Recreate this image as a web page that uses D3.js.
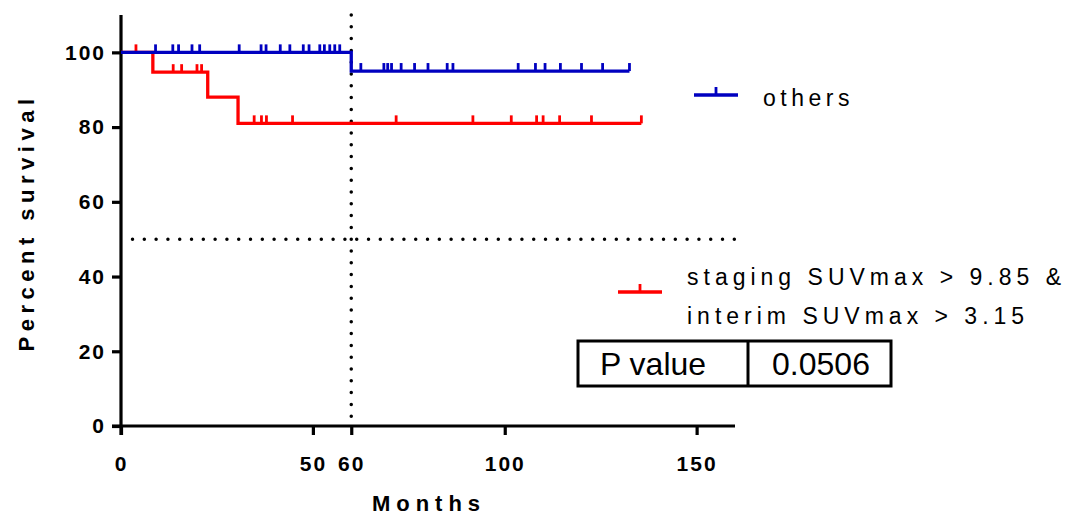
<!DOCTYPE html>
<html>
<head>
<meta charset="utf-8">
<script src="https://cdn.jsdelivr.net/npm/d3@7"></script>
<style>
  body { margin: 0; background: #fff; }
  svg { font-family: "Liberation Sans", Arial, sans-serif; }
</style>
</head>
<body>
<svg id="chart" width="1078" height="517"></svg>
<script>
// --------------------------
// DATA
// --------------------------
const othersSteps = [[0, 100], [60, 95], [132.5, 95]];
const othersCensor = [9, 13.5, 15, 18.5, 20.5, 30.8, 36.5, 37.8, 41.5, 44, 47.5, 49, 51.8, 53, 54.4, 55.7, 57,
    62.5, 68.5, 69.5, 70.5, 73, 76.5, 80, 85, 86.5, 103.5, 108, 110.5, 114.5, 120, 125.5, 132.5];

const highSteps = [[0, 100], [8.3, 94.7], [22.6, 88], [30.5, 81], [135.6, 81]];
const highCensor = [3.9, 13.6, 15.8, 19.8, 21, 34.7, 36.6, 37.9, 44.7, 71.7, 91.7, 101.7, 108.3, 110,
    114.3, 122.6, 135.6];

const xTicks = [0, 50, 60, 100, 150];
const yTicks = [0, 20, 40, 60, 80, 100];
const pValue = ["P value", "0.0506"];

const svg = d3.select("#chart");

const x = d3.scaleLinear().domain([0, 160]).range([121, 735]);
const y = d3.scaleLinear().domain([0, 110]).range([426, 15]);

// survival value at time t (step function)
function survAt(steps, t) {
    let v = steps[0][1];
    steps.forEach(s => { if (s[0] <= t) v = s[1]; });
    return v;
}

// --------------------------
// REFERENCE LINES (dotted)
// --------------------------
const dotted = svg.append("g")
    .attr("stroke", "#000")
    .attr("stroke-width", 3.5)
    .attr("stroke-linecap", "round")
    .attr("stroke-dasharray", "0 11.8");

dotted.append("line")
    .attr("x1", x(60)).attr("x2", x(60))
    .attr("y1", y(110)).attr("y2", y(0));

dotted.append("line")
    .attr("x1", x(3)).attr("x2", x(160))
    .attr("y1", y(50)).attr("y2", y(50));

// --------------------------
// AXES
// --------------------------
const yAxis = svg.append("g")
    .attr("transform", `translate(${x(0)},0)`)
    .call(d3.axisLeft(y).tickValues(yTicks).tickSize(9).tickPadding(6));

const xAxis = svg.append("g")
    .attr("transform", `translate(0,${y(0)})`)
    .call(d3.axisBottom(x).tickValues(xTicks).tickSize(9).tickPadding(21));

[xAxis, yAxis].forEach(g => {
    g.select(".domain").attr("stroke-width", 3.2);
    g.selectAll(".tick line").attr("stroke-width", 3.2);
    g.selectAll(".tick text")
        .attr("font-size", 21)
        .attr("font-weight", "bold")
        .attr("letter-spacing", "2px")
        .attr("font-family", "'Liberation Sans', Arial, sans-serif");
});
xAxis.select(".domain").attr("d", `M${x(0) - 9},0H${x(160)}`);
yAxis.select(".domain").attr("d", `M0,${y(110)}V${y(0) + 9}`);

svg.append("text")
    .attr("transform", `translate(34,${(y(0) + y(110)) / 2 + 2}) rotate(-90)`)
    .attr("text-anchor", "middle")
    .attr("font-size", 22)
    .attr("font-weight", "bold")
    .attr("letter-spacing", "5.5px")
    .text("Percent survival");

svg.append("text")
    .attr("x", 429)
    .attr("y", 511)
    .attr("text-anchor", "middle")
    .attr("font-size", 22)
    .attr("font-weight", "bold")
    .attr("letter-spacing", "6px")
    .text("Months");

// --------------------------
// SURVIVAL CURVES
// --------------------------
const line = d3.line()
    .x(d => x(d[0]))
    .y(d => y(d[1]))
    .curve(d3.curveStepAfter);

function drawCurve(steps, censor, color) {
    const g = svg.append("g");
    g.append("path")
        .datum(steps)
        .attr("d", line)
        .attr("fill", "none")
        .attr("stroke", color)
        .attr("stroke-width", 3.3);

    g.selectAll("line")
        .data(censor)
        .enter()
        .append("line")
        .attr("x1", d => x(d)).attr("x2", d => x(d))
        .attr("y1", d => y(survAt(steps, d)))
        .attr("y2", d => y(survAt(steps, d)) - 8)
        .attr("stroke", color)
        .attr("stroke-width", 2.8);
}

drawCurve(highSteps, highCensor, "#ff0000");
drawCurve(othersSteps, othersCensor, "#0000c0");

// --------------------------
// LEGEND
// --------------------------
function legendItem(cx, cy, color) {
    const g = svg.append("g");
    g.append("line")
        .attr("x1", cx - 22).attr("x2", cx + 22)
        .attr("y1", cy).attr("y2", cy)
        .attr("stroke", color).attr("stroke-width", 3.3);
    g.append("line")
        .attr("x1", cx).attr("x2", cx)
        .attr("y1", cy).attr("y2", cy - 8)
        .attr("stroke", color).attr("stroke-width", 2.8);
}

legendItem(716, 95, "#0000c0");
svg.append("text")
    .attr("x", 763).attr("y", 106)
    .attr("font-size", 23)
    .attr("letter-spacing", "4.5px")
    .text("others");

legendItem(640, 292, "#ff0000");
svg.append("text")
    .attr("x", 687).attr("y", 285)
    .attr("font-size", 23)
    .attr("letter-spacing", "5px")
    .text("staging SUVmax > 9.85 &");
svg.append("text")
    .attr("x", 687).attr("y", 324)
    .attr("font-size", 23)
    .attr("letter-spacing", "5px")
    .text("interim SUVmax > 3.15");

// --------------------------
// P VALUE TABLE
// --------------------------
const table = svg.append("g");
table.append("rect")
    .attr("x", 578).attr("y", 341)
    .attr("width", 313).attr("height", 45)
    .attr("fill", "none")
    .attr("stroke", "#000")
    .attr("stroke-width", 3);
table.append("line")
    .attr("x1", 748).attr("x2", 748)
    .attr("y1", 341).attr("y2", 386)
    .attr("stroke", "#000")
    .attr("stroke-width", 3);
table.selectAll("text")
    .data(pValue)
    .enter()
    .append("text")
    .attr("x", (d, i) => i === 0 ? 653 : 821)
    .attr("y", 375)
    .attr("text-anchor", "middle")
    .attr("font-size", 32)
    .text(d => d);
</script>
</body>
</html>
